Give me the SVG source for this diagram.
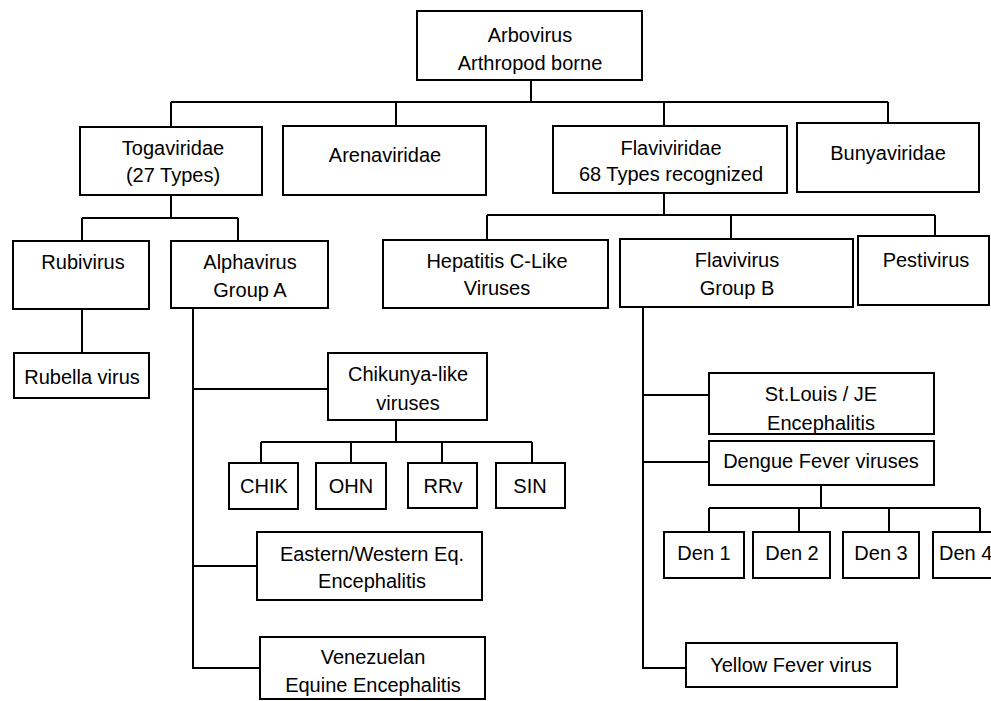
<svg xmlns="http://www.w3.org/2000/svg" width="991" height="701" viewBox="0 0 991 701">
<style>
.box{fill:#fff;stroke:#000;stroke-width:2}
.c{fill:none;stroke:#000;stroke-width:2}
text{font-family:"Liberation Sans",Arial,sans-serif;font-size:20px;fill:#000;text-anchor:middle}
</style>
<rect width="991" height="701" fill="#fff"/>
<g id="connectors" class="c">
<path d="M531,80V102M171,102H888M171,102V127M396,102V126M664,102V126M888,102V123"/>
<path d="M171,195V218M82,218H238M82,218V241M238,218V241M82,309V353"/>
<path d="M193,308V668H260M193,389H328M193,566H257"/>
<path d="M396,420V442M261,442H532M261,442V463M351,442V463M442,442V463M532,442V463"/>
<path d="M664,193V215M487,215H935M487,215V240M731,215V239M935,215V236"/>
<path d="M643,307V668H686M643,395H709M643,462H709"/>
<path d="M821,485V508M709,508H980M709,508V532M799,508V532M889,508V532M980,508V532"/>
</g>
<g id="arbovirus"><rect class="box" x="417" y="11" width="225" height="69"/><text x="530" y="42">Arbovirus</text><text x="530" y="70">Arthropod borne</text></g>
<g id="togaviridae"><rect class="box" x="80" y="127" width="182" height="68"/><text x="173" y="155">Togaviridae</text><text x="173" y="182">(27 Types)</text></g>
<g id="arenaviridae"><rect class="box" x="283" y="126" width="203" height="69"/><text x="385" y="162">Arenaviridae</text></g>
<g id="flaviviridae"><rect class="box" x="553" y="126" width="234" height="67"/><text x="671" y="155">Flaviviridae</text><text x="671" y="181">68 Types recognized</text></g>
<g id="bunyaviridae"><rect class="box" x="797" y="123" width="182" height="69"/><text x="888" y="160">Bunyaviridae</text></g>
<g id="rubivirus"><rect class="box" x="13" y="241" width="136" height="68"/><text x="83" y="269">Rubivirus</text></g>
<g id="alphavirus"><rect class="box" x="171" y="241" width="157" height="67"/><text x="250" y="269">Alphavirus</text><text x="250" y="297">Group A</text></g>
<g id="hepatitis"><rect class="box" x="383" y="240" width="225" height="68"/><text x="497" y="268">Hepatitis C-Like</text><text x="497" y="295">Viruses</text></g>
<g id="flavivirus"><rect class="box" x="620" y="239" width="233" height="68"/><text x="737" y="267">Flavivirus</text><text x="737" y="295">Group B</text></g>
<g id="pestivirus"><rect class="box" x="858" y="236" width="131" height="69"/><text x="926" y="267">Pestivirus</text></g>
<g id="rubella"><rect class="box" x="14" y="353" width="135" height="45"/><text x="82" y="384">Rubella virus</text></g>
<g id="chikunya"><rect class="box" x="328" y="353" width="159" height="67"/><text x="408" y="381">Chikunya-like</text><text x="408" y="410">viruses</text></g>
<g id="chik"><rect class="box" x="229" y="463" width="69" height="46"/><text x="264" y="493">CHIK</text></g>
<g id="ohn"><rect class="box" x="316" y="463" width="70" height="46"/><text x="351" y="493">OHN</text></g>
<g id="rrv"><rect class="box" x="408" y="463" width="69" height="45"/><text x="443" y="493">RRv</text></g>
<g id="sin"><rect class="box" x="496" y="463" width="69" height="45"/><text x="530" y="493">SIN</text></g>
<g id="eastern-western"><rect class="box" x="257" y="532" width="225" height="68"/><text x="372" y="561">Eastern/Western Eq.</text><text x="372" y="588">Encephalitis</text></g>
<g id="venezuelan"><rect class="box" x="260" y="637" width="225" height="62"/><text x="373" y="664">Venezuelan</text><text x="373" y="692">Equine Encephalitis</text></g>
<g id="st-louis"><rect class="box" x="709" y="373" width="225" height="61"/><text x="821" y="401">St.Louis / JE</text><text x="821" y="430">Encephalitis</text></g>
<g id="dengue"><rect class="box" x="709" y="441" width="225" height="44"/><text x="821" y="468">Dengue Fever viruses</text></g>
<g id="den1"><rect class="box" x="664" y="532" width="80" height="46"/><text x="704" y="560">Den 1</text></g>
<g id="den2"><rect class="box" x="753" y="532" width="77" height="46"/><text x="792" y="560">Den 2</text></g>
<g id="den3"><rect class="box" x="843" y="532" width="76" height="46"/><text x="881" y="560">Den 3</text></g>
<g id="den4"><rect class="box" x="933" y="532" width="80" height="46"/><text x="939" y="560" style="text-anchor:start">Den 4</text></g>
<g id="yellow-fever"><rect class="box" x="686" y="643" width="211" height="44"/><text x="791" y="672">Yellow Fever virus</text></g>
</svg>
